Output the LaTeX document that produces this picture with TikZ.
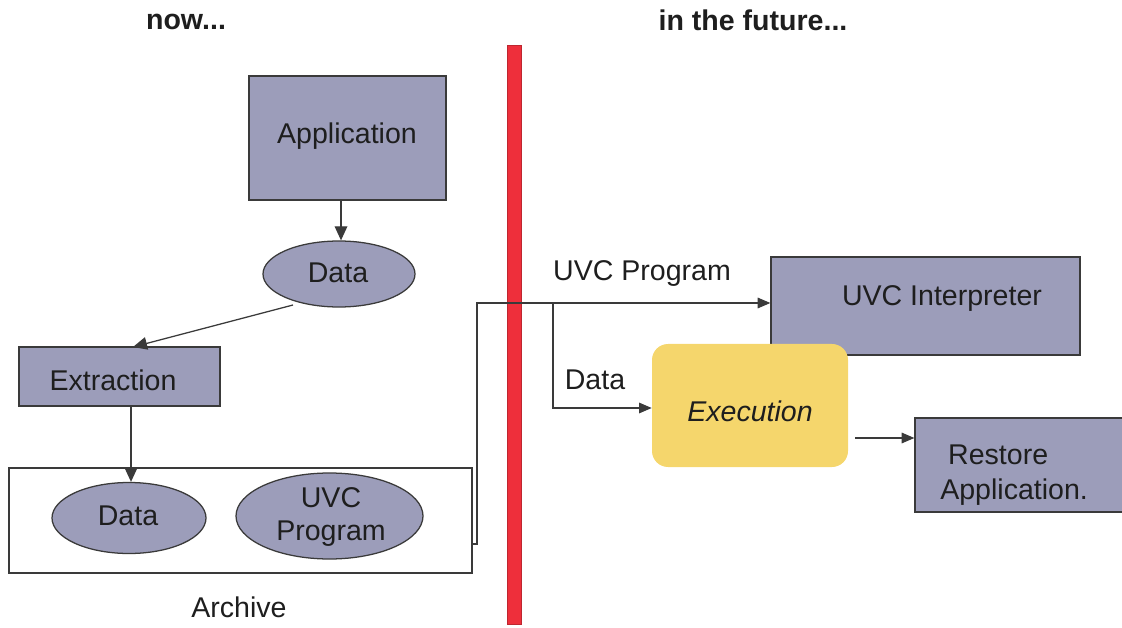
\documentclass[tikz,border=0pt]{standalone}
\usepackage{fontspec}
\setmainfont{Liberation Sans}
\usetikzlibrary{arrows.meta,shapes.geometric}
\definecolor{boxfill}{HTML}{9C9DBA}
\definecolor{boxline}{HTML}{3A3A3A}
\definecolor{execfill}{HTML}{F5D66C}
\definecolor{barred}{HTML}{EE2F3B}
\definecolor{txt}{HTML}{1E1E1E}
\tikzset{
  every node/.style={text=txt,font=\fontsize{20.3}{24}\selectfont},
  box/.style={draw=boxline,fill=boxfill,line width=0.9pt,rectangle,inner sep=0pt},
  oval/.style={draw=boxline,fill=boxfill,line width=0.9pt,ellipse,inner sep=0pt},
  conn/.style={draw=boxline,line width=0.9pt,-{Triangle[length=10pt,width=9pt]}},
  connsm/.style={draw=boxline,line width=0.9pt,-{Triangle[length=9pt,width=7.5pt]}},
  plain/.style={draw=boxline,line width=0.9pt},
  lbl/.style={inner sep=0pt,anchor=center},
  head/.style={inner sep=0pt,font=\fontsize{20.3}{24}\selectfont\bfseries},
}
\begin{document}
\begin{tikzpicture}[x=0.025cm,y=-0.025cm]
\useasboundingbox (0,0) rectangle (1122,628);
% headings
\node[head] (now) at (186,22) {now...};
\node[head] (fut) at (753,20) {in the future...};
% red separator
\node[draw=barred!80!black,fill=barred,line width=0.5pt,inner sep=0pt,minimum width=14*0.025cm,minimum height=579*0.025cm] (bar) at (514,334.5) {};
% left side
\node[box,minimum width=197*0.025cm,minimum height=124*0.025cm] (app) at (347.5,138) {};
\node[lbl] (appt) at (347,136) {Application};
\node[oval,minimum width=152*0.025cm,minimum height=66*0.025cm] (data1) at (339,274) {};
\node[lbl] (data1t) at (338,273) {Data};
\node[box,minimum width=201*0.025cm,minimum height=59*0.025cm] (extr) at (119.5,376.5) {};
\node[lbl] (extrt) at (113,380) {Extraction};
\node[draw=boxline,line width=0.9pt,fill=white,minimum width=463*0.025cm,minimum height=105*0.025cm,inner sep=0pt] (arch) at (240.5,520.5) {};
\node[oval,minimum width=154*0.025cm,minimum height=71*0.025cm] (data2) at (129,518) {};
\node[lbl] (data2t) at (128,516) {Data};
\node[oval,minimum width=187*0.025cm,minimum height=86*0.025cm] (uvcp) at (329.5,516) {};
\node[lbl,align=center,font=\fontsize{20.3}{23.5}\selectfont] (uvcpt) at (331,517) {UVC\\Program};
\node[lbl] (archt) at (239,607) {Archive};
\coordinate (appb) at (341,200);
\draw[conn] (appb) -- (data1.north -| appb);
\coordinate (data1out) at (293,305);
\draw[conn] (data1out) -- (133,347);
\coordinate (extrb) at (131,406);
\draw[conn] (extrb) -- (data2.north -| extrb);
% right side
\node[box,minimum width=309*0.025cm,minimum height=98*0.025cm] (interp) at (925.5,306) {};
\node[lbl] (interpt) at (942,298) {UVC Interpreter};
\node[draw=none,fill=execfill,rounded corners=16*0.025cm,minimum width=196*0.025cm,minimum height=123*0.025cm,inner sep=0pt] (exec) at (750,405.5) {};
\node[lbl,font=\fontsize{20.3}{24}\selectfont\itshape] (exect) at (750,411) {Execution};
\node[box,minimum width=208*0.025cm,minimum height=94*0.025cm] (rest) at (1019,465) {};
\node[lbl,align=left,anchor=west,font=\fontsize{20.3}{25}\selectfont] (restt) at (940,475) {\ Restore\\Application.};
\node[lbl] (uvclab) at (642,273) {UVC Program};
\node[lbl] (datalab) at (595,380) {Data};
\coordinate (archout) at (477,544);
\coordinate (corner) at (477,303);
\coordinate (branch) at (553,303);
\draw[plain] (arch.east |- archout) -- (archout) -- (corner) -- (branch);
\draw[connsm] (branch) -- (interp.west |- branch);
\draw[connsm] (branch) |- (exec.west |- 0,408);
\coordinate (execout) at (855,438);
\draw[connsm] (execout) -- (rest.west |- execout);
\end{tikzpicture}
\end{document}
